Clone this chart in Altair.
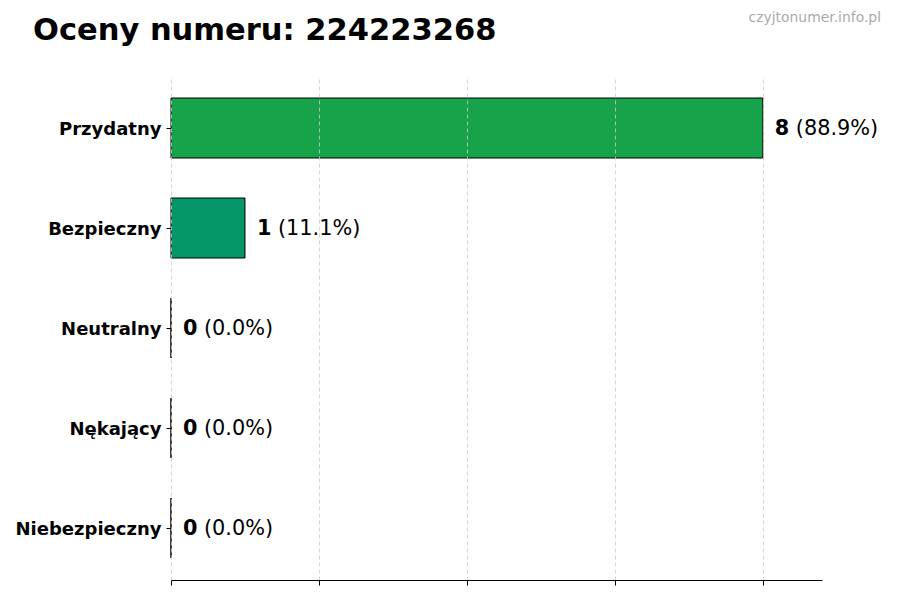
import altair as alt
import pandas as pd

categories = ["Przydatny", "Bezpieczny", "Neutralny", "Nękający", "Niebezpieczny"]
counts = [8, 1, 0, 0, 0]
percents = [88.9, 11.1, 0.0, 0.0, 0.0]
colors = ["#16a34a", "#059669", "#6b7280", "#f97316", "#dc2626"]
tick_values = [0, 2, 4, 6, 8]
title_text = "Oceny numeru: 224223268"
watermark = "czyjtonumer.info.pl"

df = pd.DataFrame({
    "category": categories,
    "count": counts,
    "pct": percents,
    "color": colors,
})
df["num_label"] = df["count"].astype(str)
df["pct_label"] = df["pct"].map(lambda p: f"({p:.1f}%)")

FONT = "DejaVu Sans"

y_enc = alt.Y(
    "category:N",
    sort=categories,
    scale=alt.Scale(paddingInner=0.4, paddingOuter=0.22),
    axis=alt.Axis(
        title=None, domain=False, ticks=True, tickSize=5, tickColor="black",
        tickWidth=1, labelFont=FONT, labelFontSize=18, labelFontWeight="bold",
        labelColor="black", labelPadding=5, labelOffset=1.5, grid=False,
    ),
)
x_enc = alt.X(
    "count:Q",
    scale=alt.Scale(domain=[0, 8.8], nice=False, zero=True),
    axis=alt.Axis(
        title=None, values=tick_values, labels=False, ticks=True, tickSize=5,
        tickColor="black", tickWidth=1, domain=True, domainColor="black",
        domainWidth=1.1, grid=True, gridColor="#cccccc", gridDash=[4, 3],
        gridWidth=0.8, zindex=1,
    ),
)

bars = alt.Chart(df).mark_bar(stroke="black", strokeWidth=1).encode(
    x=x_enc, y=y_enc, color=alt.Color("color:N", scale=None)
)

num = alt.Chart(df).mark_text(
    align="left", baseline="middle", dx=12, dy=1, font=FONT, fontSize=20.8,
    fontWeight="bold", color="black",
).encode(x="count:Q", y=alt.Y("category:N", sort=categories), text="num_label:N")

pct = alt.Chart(df).mark_text(
    align="left", baseline="middle", dx=33, dy=1, font=FONT, fontSize=20.8,
    fontWeight="normal", color="black",
).encode(x="count:Q", y=alt.Y("category:N", sort=categories), text="pct_label:N")

wm = alt.Chart(pd.DataFrame({"t": [watermark]})).mark_text(
    align="right", baseline="alphabetic", font=FONT, fontSize=13.9, color="#aaaaaa",
).encode(x=alt.value(710), y=alt.value(-54), text="t:N")

title = alt.Chart(pd.DataFrame({"t": [title_text]})).mark_text(
    align="left", baseline="alphabetic", font=FONT, fontSize=30.5,
    fontWeight="bold", color="black",
).encode(x=alt.value(-138), y=alt.value(-36), text="t:N")

chart = alt.layer(bars, num, pct, wm, title).properties(
    width=651,
    height=504,
    padding={"left": 163, "top": 68, "right": 70, "bottom": 12},
    autosize=alt.AutoSizeParams(type="none"),
).configure_view(stroke=None)

chart.save("out.html", embed_options={"renderer": "svg", "actions": False})
